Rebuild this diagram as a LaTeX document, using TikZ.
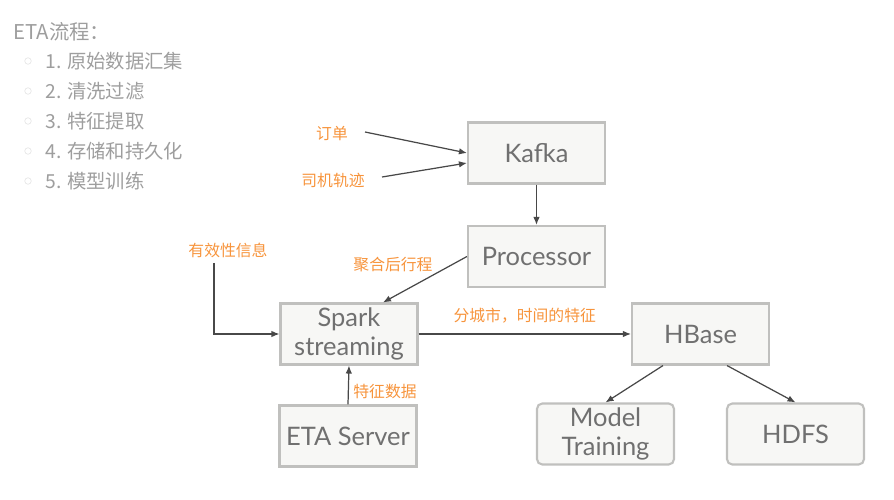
\documentclass[tikz,border=0pt]{standalone}
\usepackage{fontspec}
\setmainfont{Lato}
\newfontfamily\cjk{Noto Sans CJK SC}
\usetikzlibrary{calc, arrows.meta}
\definecolor{boxfill}{RGB}{247,247,245}
\definecolor{boxline}{RGB}{192,192,190}
\definecolor{boxtext}{RGB}{112,112,112}
\definecolor{noteorange}{RGB}{247,148,60}
\definecolor{arrowgray}{RGB}{72,72,72}
\definecolor{listgray}{RGB}{158,158,158}
\tikzset{
    block/.style={draw=boxline, fill=boxfill, line width=1.2pt, minimum width=2.74cm, minimum height=1.22cm,
        inner sep=0pt, align=center, text=boxtext, font=\fontsize{14.5}{17}\selectfont},
    softblock/.style={block, rounded corners=3pt},
    note/.style={text=noteorange, font=\cjk\fontsize{9}{10}\selectfont, inner sep=1pt},
    listtext/.style={text=listgray, inner sep=0pt, anchor=west},
    flow/.style={draw=arrowgray, line width=0.7pt, -{Latex[length=1.6mm, width=1.3mm]}},
    common settings/.style={x=0.02cm, y=-0.02cm}
}

\begin{document}
\begin{tikzpicture}[common settings]

    \useasboundingbox (0,0) rectangle (894,500);

    % 1. Steps on the left
    \node[listtext, font=\cjk\fontsize{11.6}{13}\selectfont] (title) at (13,32) {ETA流程：};
    \foreach \txt [count=\k] in {1. 原始数据汇集, 2. 清洗过滤, 3. 特征提取, 4. 存储和持久化, 5. 模型训练} {
        \pgfmathsetmacro{\ypos}{61 + (\k-1)*30}
        \node[circle, draw=listgray!25, line width=0.4pt, minimum size=1.3mm, inner sep=0pt] (dot\k) at (28,\ypos) {};
        \node[listtext, font=\cjk\fontsize{11}{13}\selectfont] (item\k) at (45,\ypos) {\txt};
    }

    % 2. Boxes
    \node[block] (kafka) at (536.5,153) {Kafka};
    \node[block] (processor) at (536.5,256.5) {Processor};
    \node[block] (spark) at (349,334) {Spark\\streaming};
    \node[block] (etaserver) at (348,436) {ETA Server};
    \node[block] (hbase) at (700.5,334) {HBase};
    \node[softblock] (training) at (605.5,434) {Model\\Training};
    \node[softblock] (hdfs) at (795.5,434) {HDFS};

    % 3. Input labels
    \node[note] (lblorder) at (332,134) {订单};
    \node[note] (lbltrack) at (333,180) {司机轨迹};
    \node[note] (lblvalid) at (228,250) {有效性信息};
    \node[note] (lbltrip) at (393,265) {聚合后行程};
    \node[note] (lblfeature) at (385,392) {特征数据};

    \coordinate (ordertail) at (365,132);
    \coordinate (tracktail) at (382,177);
    \coordinate (validtail) at (214,263);

    % 4. Connectors
    \draw[flow] (ordertail) -- (kafka.west);
    \draw[flow] (tracktail) -- ($(kafka.west)+(0,10)$);
    \draw[flow] (kafka.south) -- (processor.north);
    \draw[flow] (processor.west) -- ($(spark.north)+(34,0)$);
    \draw[flow] (validtail) |- (spark.west);
    \draw[flow] (etaserver.north) -- (spark.south);
    \draw[flow] (spark.east) -- (hbase.west)
        node[note, midway, above=5pt] (lblcity) {分城市，时间的特征};
    \draw[flow] ($(hbase.south)+(-37.5,0)$) -- (training.north);
    \draw[flow] ($(hbase.south)+(26.5,0)$) -- (hdfs.north);

\end{tikzpicture}
\end{document}
